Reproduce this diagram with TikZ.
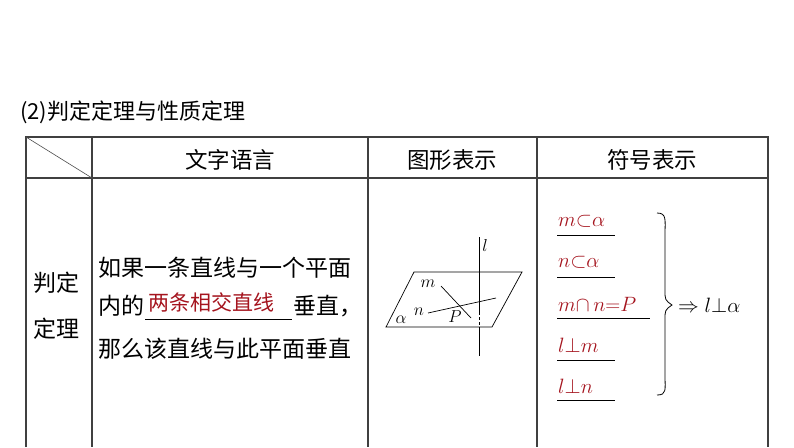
\documentclass[tikz,border=0pt]{standalone}
\usepackage{fontspec}
\setmainfont{Noto Sans CJK SC}
\usepackage{amssymb}
\definecolor{dred}{RGB}{165,20,30}
\begin{document}
\begin{tikzpicture}[x=1pt,y=-1pt,
  grid/.style={draw=black!75,line width=1.1pt},
  cjkt/.style={font=\fontsize{23}{25}\selectfont,anchor=west,inner sep=0},
  hdr/.style={font=\fontsize{22.5}{25}\selectfont,inner sep=0},
  sym/.style={font=\fontsize{22}{24}\selectfont,text=dred,anchor=west,inner sep=0},
  ml/.style={font=\fontsize{19}{21}\selectfont,inner sep=0},
  ul/.style={draw=black,line width=0.9pt}]
\useasboundingbox (0,0) rectangle (794,447);
\fill[white] (0,0) rectangle (794,447);
\node[cjkt,font=\fontsize{22}{24}\selectfont] (title) at (20,112) {(2)判定定理与性质定理};
% table
\draw[grid] (26,447) -- (26,137) -- (768,137) -- (768,447);
\draw[grid] (26,178) -- (768,178);
\foreach \x in {92,368,537} \draw[grid] (\x,137) -- (\x,447);
\draw[black!70,line width=0.6pt] (26,137) -- (92,178);
\node[hdr] (h1) at (230,160) {文字语言};
\node[hdr] (h2) at (452,160) {图形表示};
\node[hdr] (h3) at (652,160) {符号表示};
\node[cjkt] (r1) at (33,283) {判定};
\node[cjkt] (r2) at (33,329) {定理};
\node[cjkt] (t1) at (98,268) {如果一条直线与一个平面};
\node[cjkt] (t2a) at (98,306) {内的};
\node[cjkt,text=dred,font=\fontsize{21}{23}\selectfont] (t2b) at (148,302) {两条相交直线};
\node[cjkt] (t2c) at (293,306) {垂直，};
\draw[ul] (145,319) -- (292,319);
\node[cjkt] (t3) at (98,349) {那么该直线与此平面垂直};
% figure
\draw[line width=0.7pt] (414,272) -- (522,272) -- (492,327) -- (386,327) -- cycle;
\draw[line width=0.7pt] (479,237) -- (479,312);
\draw[line width=0.7pt,dash pattern=on 3pt off 2pt] (479,312) -- (479,327);
\draw[line width=0.7pt] (479,327) -- (479,356);
\draw[line width=0.7pt] (441,286) -- (471,318);
\draw[line width=0.7pt] (428,313) -- (496,298);
\node[ml] (lab) at (485,245) {$l$};
\node[ml] (mlab) at (428,284) {$m$};
\node[ml] (nlab) at (419,312) {$n$};
\node[ml] (plab) at (455,317) {$P$};
\node[ml] (alab) at (401,320) {$\alpha$};
% symbols
\node[sym] (s1) at (558,221) {$m{\subset}\alpha$};
\node[sym] (s2) at (558,262) {$n{\subset}\alpha$};
\node[sym] (s3) at (558,304) {$m{\cap}\,n{=}P$};
\node[sym] (s4) at (558,345) {$l{\perp}m$};
\node[sym] (s5) at (558,386) {$l{\perp}n$};
\foreach \y/\e in {235/615,277/615,318/650,360/615,400/615} \draw[ul] (557,\y) -- (\e,\y);
\draw[line width=0.8pt] (657,213) .. controls (667,213) and (665,220) .. (665,235) -- (665,290) .. controls (665,300) .. (672,305) .. controls (665,310) .. (665,320) -- (665,375) .. controls (665,390) and (667,395) .. (657,395);
\node[font=\fontsize{22}{24}\selectfont,anchor=west,inner sep=0] (res) at (678,305) {$\Rightarrow l{\perp}\alpha$};
\end{tikzpicture}
\end{document}
